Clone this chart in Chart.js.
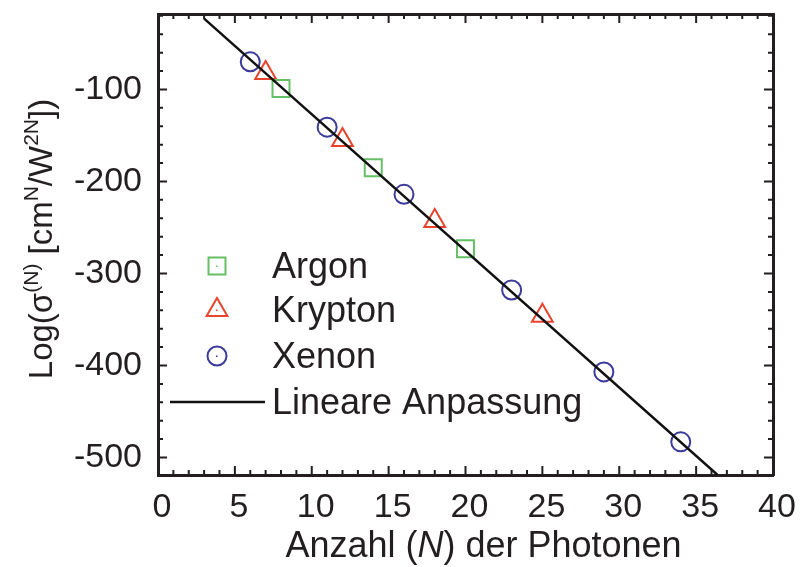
<!DOCTYPE html>
<html>
<head>
<meta charset="utf-8">
<script src="https://cdn.jsdelivr.net/npm/chart.js@4/dist/chart.umd.min.js"></script>
<style>
  html, body { margin: 0; padding: 0; background: #fff; }
  #wrap { width: 800px; height: 567px; }
</style>
</head>
<body>
<div id="wrap"><canvas id="chart"></canvas></div>
<script>
/* ========= DATA ========= */

const argonN = [8, 14, 20];
const argonLog = [-99, -185, -273];

const kryptonN = [7, 12, 18, 25];
const kryptonLog = [-82, -155, -243, -346];

const xenonN = [6, 11, 16, 23, 29, 34];
const xenonLog = [-70, -141, -214, -318, -407, -483];

// ends of the fitted line
const fitN = [3, 36.4];
const fitLog = [-23, -519];

const xTicks = [0, 5, 10, 15, 20, 25, 30, 35, 40];
const yTicks = [-500, -400, -300, -200, -100];

const legendNames = ["Argon", "Krypton", "Xenon", "Lineare Anpassung"];

/* ========= STYLE ========= */

const INK = "#231f20";
const GREEN = "#66bf66";
const RED = "#e8442c";
const INDIGO = "#3b3b9a";
const FONT = "'Liberation Sans', Arial, sans-serif";

const X_MIN = 0, X_MAX = 40;
const Y_MIN = -519, Y_MAX = -18;

function pts(xs, ys) {
  return xs.map((x, i) => ({ x: x, y: ys[i] }));
}

/* inward ticks on all four sides */
const innerTicks = {
  id: "innerTicks",
  afterDraw(chart) {
    const ctx = chart.ctx;
    const a = chart.chartArea;
    const xs = chart.scales.x, ys = chart.scales.y;
    ctx.save();
    ctx.strokeStyle = INK;
    ctx.lineWidth = 2;
    for (let v = X_MIN; v <= X_MAX; v += 1) {
      const px = xs.getPixelForValue(v);
      const len = v % 5 === 0 ? 9 : 5;
      ctx.beginPath();
      ctx.moveTo(px, a.bottom); ctx.lineTo(px, a.bottom - len);
      ctx.moveTo(px, a.top); ctx.lineTo(px, a.top + len);
      ctx.stroke();
    }
    for (let v = -500; v <= -20; v += 20) {
      const py = ys.getPixelForValue(v);
      const len = v % 100 === 0 ? 9 : 5;
      ctx.beginPath();
      ctx.moveTo(a.left, py); ctx.lineTo(a.left + len, py);
      ctx.moveTo(a.right, py); ctx.lineTo(a.right - len, py);
      ctx.stroke();
    }
    ctx.restore();
  }
};

/* axis titles with super scripts and italic N */
const titles = {
  id: "titles",
  afterDraw(chart) {
    const ctx = chart.ctx;
    const a = chart.chartArea;
    ctx.save();
    ctx.fillStyle = INK;
    ctx.textBaseline = "alphabetic";

    // x title
    const xParts = [
      { t: "Anzahl (", f: "36px " + FONT },
      { t: "N", f: "italic 36px " + FONT },
      { t: ") der Photonen", f: "36px " + FONT }
    ];
    let w = 0;
    xParts.forEach(p => { ctx.font = p.f; w += ctx.measureText(p.t).width; });
    let x = (a.left + a.right) / 2 + 18 - w / 2;
    xParts.forEach(p => {
      ctx.font = p.f;
      ctx.fillText(p.t, x, 557);
      x += ctx.measureText(p.t).width;
    });

    // y title
    const yParts = [
      { t: "Log(\u03c3", sup: false },
      { t: "(N)", sup: true },
      { t: " [cm", sup: false },
      { t: "N", sup: true },
      { t: "/W", sup: false },
      { t: "2N", sup: true },
      { t: "])", sup: false }
    ];
    const big = "33px " + FONT, small = "21px " + FONT;
    w = 0;
    yParts.forEach(p => { ctx.font = p.sup ? small : big; w += ctx.measureText(p.t).width; });
    ctx.translate(52, 239);
    ctx.rotate(-Math.PI / 2);
    x = -w / 2;
    yParts.forEach(p => {
      ctx.font = p.sup ? small : big;
      ctx.fillText(p.t, x, p.sup ? -14 : 0);
      x += ctx.measureText(p.t).width;
    });
    ctx.restore();
  }
};

/* legend drawn inside the plot, like the original */
const innerLegend = {
  id: "innerLegend",
  afterDraw(chart) {
    const ctx = chart.ctx;
    const rows = [266, 310, 356, 402];
    ctx.save();
    ctx.font = "36px " + FONT;
    ctx.textBaseline = "middle";
    chart.data.datasets.forEach((ds, i) => {
      const y = rows[i];
      ctx.strokeStyle = ds.borderColor;
      ctx.lineWidth = ds.borderWidth;
      if (ds.showLine) {
        ctx.beginPath();
        ctx.moveTo(170, y); ctx.lineTo(265, y);
        ctx.stroke();
      } else {
        ctx.fillStyle = "rgba(0,0,0,0)";
        Chart.helpers.drawPoint(ctx, {
          pointStyle: ds.pointStyle, radius: ds.pointRadius,
          borderWidth: ds.borderWidth, rotation: 0
        }, 217, y);
        ctx.fillStyle = ds.borderColor;
        ctx.fillRect(216, y - 0.5, 1.5, 1.5);
      }
      ctx.fillStyle = INK;
      ctx.fillText(legendNames[i], 272, y + 2);
    });
    ctx.restore();
  }
};

function markerSet(label, xs, ys, color, style, r) {
  return {
    label: label,
    data: pts(xs, ys),
    showLine: false,
    pointStyle: style,
    pointRadius: r,
    pointHoverRadius: r,
    pointBorderWidth: 2,
    borderWidth: 2,
    borderColor: color,
    pointBorderColor: color,
    backgroundColor: "rgba(0,0,0,0)",
    pointBackgroundColor: "rgba(0,0,0,0)"
  };
}

new Chart(document.getElementById("chart"), {
  type: "scatter",
  data: {
    datasets: [
      markerSet(legendNames[0], argonN, argonLog, GREEN, "rect", 12),
      markerSet(legendNames[1], kryptonN, kryptonLog, RED, "triangle", 12),
      markerSet(legendNames[2], xenonN, xenonLog, INDIGO, "circle", 9.5),
      {
        label: legendNames[3],
        data: pts(fitN, fitLog),
        showLine: true,
        pointRadius: 0,
        borderColor: "#111",
        borderWidth: 2.5,
        order: -1
      }
    ]
  },
  options: {
    responsive: true,
    maintainAspectRatio: false,
    animation: false,
    layout: { padding: { top: 14, right: 27, left: 0, bottom: 0 } },
    plugins: {
      legend: { display: false },
      tooltip: { enabled: false }
    },
    scales: {
      x: {
        type: "linear", position: "bottom", min: X_MIN, max: X_MAX,
        afterBuildTicks: s => { s.ticks = xTicks.map(v => ({ value: v })); },
        afterFit: s => { s.height = 92; s.paddingLeft = 0; s.paddingRight = 0; },
        grid: { display: false },
        border: { display: true, color: INK, width: 3 },
        ticks: { color: INK, font: { family: FONT, size: 34 }, padding: 4, maxRotation: 0,
                 labelOffset: 4 }
      },
      x2: {
        type: "linear", position: "top", min: X_MIN, max: X_MAX,
        afterFit: s => { s.height = 0; s.paddingLeft = 0; s.paddingRight = 0; },
        grid: { display: false },
        border: { display: true, color: INK, width: 3 },
        ticks: { display: false }
      },
      y: {
        type: "linear", position: "left", min: Y_MIN, max: Y_MAX,
        afterBuildTicks: s => { s.ticks = yTicks.map(v => ({ value: v })); },
        afterFit: s => { s.width = 158; s.paddingTop = 0; s.paddingBottom = 0; },
        grid: { display: false },
        border: { display: true, color: INK, width: 3 },
        ticks: { color: INK, font: { family: FONT, size: 34 }, padding: 8 }
      },
      y2: {
        type: "linear", position: "right", min: Y_MIN, max: Y_MAX,
        afterFit: s => { s.width = 0; s.paddingTop = 0; s.paddingBottom = 0; },
        grid: { display: false },
        border: { display: true, color: INK, width: 3 },
        ticks: { display: false }
      }
    }
  },
  plugins: [innerTicks, titles, innerLegend]
});
</script>
</body>
</html>
